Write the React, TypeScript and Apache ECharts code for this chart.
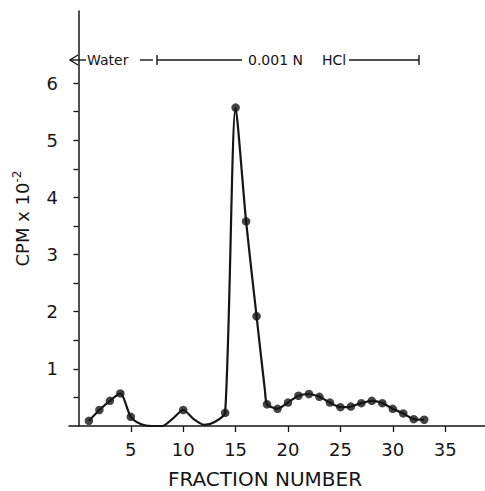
import React, { useEffect, useRef } from "react";
import * as echarts from "echarts";

// Measured fractions (plotted with dots)
const measuredFractions = [1, 2, 3, 4, 5, 10, 14, 15, 16, 17, 18, 19, 20, 21, 22, 23, 24, 25, 26, 27, 28, 29, 30, 31, 32, 33];
const measuredCpm = [0.09, 0.28, 0.44, 0.57, 0.16, 0.28, 0.23, 5.57, 3.58, 1.92, 0.38, 0.3, 0.41, 0.53, 0.56, 0.51, 0.41, 0.33, 0.34, 0.4, 0.44, 0.4, 0.3, 0.22, 0.12, 0.11];

// Points traced from the drawn curve where no dot is shown
const curveOnlyFractions = [6, 7, 8, 9, 11, 12, 13, 17.8];
const curveOnlyCpm = [0.03, 0.0, 0.0, 0.13, 0.12, 0.02, 0.07, 0.62];

const xTickValues = [5, 10, 15, 20, 25, 30, 35];
const yLabelValues = [1, 2, 3, 4, 5, 6];
const yTickValues = [0.5, 1, 1.5, 2, 2.5, 3, 3.5, 4, 4.5, 5, 5.5, 6];

const FONT = "DejaVu Sans";
const INK = "#151515";

export default function App() {
  const ref = useRef<HTMLDivElement>(null);
  useEffect(() => {
    if (!ref.current) return;
    const chart = echarts.init(ref.current, undefined, { renderer: "svg" });

    const measuredPts = measuredFractions.map((f, i) => [f, measuredCpm[i]]);
    const curvePts = measuredPts
      .concat(curveOnlyFractions.map((f, i) => [f, curveOnlyCpm[i]]))
      .sort((a, b) => a[0] - b[0]);

    const hdrY = 60;
    const lineStyle = { stroke: INK, lineWidth: 1.4 };

    chart.setOption({
      animation: false,
      backgroundColor: "#fff",
      grid: { left: 69, right: 0, top: 11, bottom: 65, outerBoundsMode: "none", containLabel: false },
      xAxis: {
        type: "value",
        min: -0.9,
        max: 38.8,
        name: "FRACTION NUMBER",
        nameLocation: "middle",
        nameGap: 44,
        nameTextStyle: { fontFamily: FONT, fontSize: 20, lineHeight: 18, color: INK, padding: [0, 24, 0, 0] },
        splitLine: { show: false },
        axisLine: { lineStyle: { color: INK, width: 1.5 } },
        axisTick: { customValues: xTickValues, length: 6, lineStyle: { color: INK, width: 1.3 } },
        axisLabel: { customValues: xTickValues, fontFamily: FONT, fontSize: 18, color: INK, margin: 14 },
      },
      yAxis: {
        type: "value",
        min: 0,
        max: 7.26,
        name: "{a|CPM x 10}{b|-2}",
        nameLocation: "middle",
        nameGap: 36,
        nameRotate: 90,
        nameTextStyle: {
          rich: {
            a: { fontFamily: FONT, fontSize: 18, color: INK, lineHeight: 22 },
            b: { fontFamily: FONT, fontSize: 12, color: INK, lineHeight: 22, verticalAlign: "top" },
          },
        },
        splitLine: { show: false },
        axisLine: { lineStyle: { color: INK, width: 1.5 } },
        axisTick: { customValues: yTickValues, length: 5, lineStyle: { color: INK, width: 1.3 } },
        axisLabel: { customValues: yLabelValues, fontFamily: FONT, fontSize: 18, color: INK, margin: 11 },
      },
      series: [
        {
          type: "line",
          data: curvePts,
          smooth: 0.25,
          showSymbol: false,
          symbol: "none",
          lineStyle: { color: INK, width: 2.2 },
          z: 2,
        },
        {
          type: "scatter",
          data: measuredPts,
          symbol: "circle",
          symbolSize: 8.5,
          itemStyle: { color: INK },
          z: 3,
        },
      ],
      graphic: [
        // arrow
        { type: "line", shape: { x1: 70, y1: hdrY, x2: 86, y2: hdrY }, style: lineStyle },
        { type: "polyline", shape: { points: [[78, hdrY - 5], [70, hdrY], [78, hdrY + 5]] }, style: { ...lineStyle, fill: null } },
        { type: "text", x: 87, y: hdrY, style: { text: "Water", fontFamily: FONT, fontSize: 14, fill: INK, verticalAlign: "middle" } },
        { type: "line", shape: { x1: 140, y1: hdrY, x2: 153, y2: hdrY }, style: lineStyle },
        { type: "line", shape: { x1: 157, y1: hdrY - 5, x2: 157, y2: hdrY + 5 }, style: lineStyle },
        { type: "line", shape: { x1: 157, y1: hdrY, x2: 242, y2: hdrY }, style: lineStyle },
        { type: "text", x: 248, y: hdrY, style: { text: "0.001 N", fontFamily: FONT, fontSize: 14, fill: INK, verticalAlign: "middle" } },
        { type: "text", x: 322, y: hdrY, style: { text: "HCl", fontFamily: FONT, fontSize: 14, fill: INK, verticalAlign: "middle" } },
        { type: "line", shape: { x1: 349, y1: hdrY, x2: 419, y2: hdrY }, style: lineStyle },
        { type: "line", shape: { x1: 419, y1: hdrY - 5, x2: 419, y2: hdrY + 5 }, style: lineStyle },
      ],
    });
    return () => chart.dispose();
  }, []);
  return <div ref={ref} style={{ width: 485, height: 491, position: "absolute", left: 0, top: 0 }} />;
}
